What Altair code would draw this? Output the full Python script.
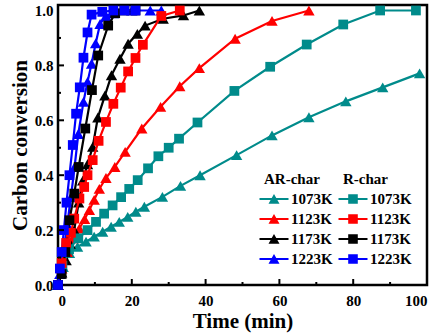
import altair as alt
import pandas as pd

temps = ["1073K", "1123K", "1173K", "1223K"]
colors = ["#008B8B", "#FF0000", "#000000", "#0000FF"]

# AR-char series (triangles)
ar_1073_t = [0, 1.4, 3.1, 5.3, 7.6, 9.8, 12.1, 14.4, 16.6, 18.9, 21.1, 23.4, 28.3, 33.2, 38.5, 48.4, 58, 68, 78, 88, 98]
ar_1073_c = [0, 0.065, 0.116, 0.139, 0.158, 0.176, 0.194, 0.212, 0.23, 0.248, 0.267, 0.285, 0.321, 0.361, 0.40, 0.473, 0.545, 0.611, 0.669, 0.72, 0.771]
ar_1123_t = [0, 1, 2.5, 4, 5.8, 7.2, 8.5, 9.8, 11.2, 13, 15.4, 18.2, 22.7, 27.8, 33, 38.3, 48, 58, 68]
ar_1123_c = [0, 0.06, 0.12, 0.17, 0.206, 0.24, 0.273, 0.31, 0.35, 0.39, 0.43, 0.485, 0.57, 0.649, 0.724, 0.79, 0.897, 0.962, 1.0]
ar_1173_t = [0, 1, 2.2, 3.3, 4.4, 5.6, 6.7, 8, 9.4, 10.8, 12.7, 14.5, 16.8, 19, 21.5, 23.6, 28.5, 34, 38.3]
ar_1173_c = [0, 0.045, 0.09, 0.15, 0.2, 0.3, 0.38, 0.44, 0.503, 0.61, 0.69, 0.764, 0.824, 0.879, 0.915, 0.945, 0.97, 0.982, 1.0]
ar_1223_t = [0, 0.5, 1.5, 2.5, 3.5, 4.5, 5.5, 6.9, 8, 9.1, 10.2, 11.4, 13, 15, 20, 25, 28]
ar_1223_c = [0, 0.04, 0.12, 0.22, 0.32, 0.43, 0.55, 0.667, 0.74, 0.806, 0.88, 0.951, 0.98, 0.99, 1.0, 1.0, 1.0]

# R-char series (squares)
r_1073_t = [0, 1.2, 3, 5.5, 8, 10.3, 12.5, 14.8, 17.1, 19.3, 21.6, 24.4, 27.2, 30, 32.8, 37.8, 47.8, 57.5, 67.4, 77.3, 87.3, 97]
r_1073_c = [0, 0.07, 0.13, 0.17, 0.2, 0.23, 0.26, 0.29, 0.32, 0.35, 0.382, 0.425, 0.469, 0.50, 0.533, 0.592, 0.707, 0.795, 0.876, 0.949, 1.0, 1.0]
r_1123_t = [0, 1, 2.2, 3.5, 4.4, 5.8, 7.1, 8, 9.4, 11, 13, 15, 17, 19, 21, 23, 28, 33]
r_1123_c = [0, 0.08, 0.153, 0.19, 0.242, 0.315, 0.357, 0.4, 0.455, 0.525, 0.594, 0.66, 0.719, 0.778, 0.827, 0.875, 0.98, 1.0]
r_1173_t = [0, 1, 2, 3.1, 4.4, 5.6, 7.4, 9.2, 10.9, 13.6, 15.5, 18, 21]
r_1173_c = [0, 0.04, 0.12, 0.236, 0.333, 0.43, 0.57, 0.71, 0.836, 0.945, 0.99, 1.0, 1.0]
r_1223_t = [0, 0.5, 1, 1.6, 2.3, 3.1, 4, 4.9, 5.9, 6.9, 8, 9.1, 12, 15, 18, 21]
r_1223_c = [0, 0.06, 0.12, 0.2, 0.3, 0.4, 0.51, 0.624, 0.72, 0.828, 0.92, 0.985, 0.995, 1.0, 1.0, 1.0]

x_major = [20, 40, 60, 80]
x_minor = [10, 30, 50, 70, 90]
y_major = [0.2, 0.4, 0.6, 0.8]
y_minor = [0.1, 0.3, 0.5, 0.7, 0.9]
x_labels = [0, 20, 40, 60, 80, 100]
y_labels = [0, 0.2, 0.4, 0.6, 0.8, 1.0]


def frame(pairs):
    rows = []
    for temp, (ts, cs) in zip(temps, pairs):
        for t, c in zip(ts, cs):
            rows.append({"t": t, "c": c, "temp": temp})
    return pd.DataFrame(rows)


ar_df = frame([(ar_1073_t, ar_1073_c), (ar_1123_t, ar_1123_c), (ar_1173_t, ar_1173_c), (ar_1223_t, ar_1223_c)])
r_df = frame([(r_1073_t, r_1073_c), (r_1123_t, r_1123_c), (r_1173_t, r_1173_c), (r_1223_t, r_1223_c)])

W, H = 369, 280
FONT = "Liberation Serif"
xs = alt.Scale(domain=[0, 100], nice=False)
ys = alt.Scale(domain=[0, 1.02], nice=False)

x_axis = alt.Axis(title="Time (min)", values=x_labels, ticks=False, domain=False, grid=False,
                  labelPadding=8, titlePadding=2)
y_axis = alt.Axis(title="Carbon conversion", values=y_labels, format=".1f", ticks=False, domain=False,
                  grid=False, labelPadding=5, titlePadding=4)

# symbol box is 20px (size 400); path extends beyond it so the line is ~29px long
tri_path = "M-1.45,-0.1H1.45V0.1H-1.45Z M-0.55,0.48L0,-0.5L0.55,0.48Z"
sq_path = "M-1.45,-0.1H1.45V0.1H-1.45Z M-0.48,-0.48H0.48V0.48H-0.48Z"


def series(df, shape, size, title, path, lx, ly):
    base = alt.Chart(df)
    cscale = alt.Scale(domain=temps, range=colors)
    leg = alt.Legend(
        title=title, orient="none", legendX=lx, legendY=ly,
        symbolType=path, symbolSize=400, symbolStrokeWidth=0, symbolOpacity=1,
        labelFont=FONT, labelFontSize=15, labelFontWeight="bold", labelColor="black",
        titleFont=FONT, titleFontSize=15, titleFontWeight="bold", titleColor="black",
        labelOffset=7, rowPadding=2, titlePadding=2)
    line = base.mark_line(strokeWidth=2.2).encode(
        x=alt.X("t:Q", scale=xs, axis=x_axis),
        y=alt.Y("c:Q", scale=ys, axis=y_axis),
        color=alt.Color("temp:N", scale=cscale, legend=leg),
    )
    pts = base.mark_point(shape=shape, filled=True, size=size, opacity=1).encode(
        x=alt.X("t:Q", scale=xs, axis=x_axis),
        y=alt.Y("c:Q", scale=ys, axis=y_axis),
        color=alt.Color("temp:N", scale=cscale, legend=leg),
    )
    return alt.layer(line, pts)


ar_layer = series(ar_df, "triangle-up", 130, "AR-char", tri_path, 206, 167)
r_layer = series(r_df, "square", 95, "R-char", sq_path, 285, 167)

xt_major = alt.Chart(pd.DataFrame({"t": x_major})).mark_rule(color="black", strokeWidth=2).encode(
    x=alt.X("t:Q", scale=xs, axis=x_axis), y=alt.value(H), y2=alt.value(H - 6))
xt_minor = alt.Chart(pd.DataFrame({"t": x_minor})).mark_rule(color="black", strokeWidth=2).encode(
    x=alt.X("t:Q", scale=xs, axis=x_axis), y=alt.value(H), y2=alt.value(H - 3))
yt_major = alt.Chart(pd.DataFrame({"c": y_major})).mark_rule(color="black", strokeWidth=2).encode(
    y=alt.Y("c:Q", scale=ys, axis=y_axis), x=alt.value(0), x2=alt.value(6))
yt_minor = alt.Chart(pd.DataFrame({"c": y_minor})).mark_rule(color="black", strokeWidth=2).encode(
    y=alt.Y("c:Q", scale=ys, axis=y_axis), x=alt.value(0), x2=alt.value(3))

chart = alt.layer(ar_layer, r_layer, xt_major, xt_minor, yt_major, yt_minor).resolve_scale(
    color="independent"
).properties(
    width=W, height=H,
    padding={"left": 58, "top": 5, "right": 16, "bottom": 49},
    autosize=alt.AutoSizeParams(type="none"),
    background="white",
).configure_view(
    stroke="black", strokeWidth=2.5
).configure_axis(
    labelFont=FONT, labelFontSize=15, labelFontWeight="bold", labelColor="black",
    titleFont=FONT, titleFontSize=21, titleFontWeight="bold", titleColor="black",
).configure_legend(
    labelFont=FONT, labelFontSize=15, labelFontWeight="bold", labelColor="black",
    titleFont=FONT, titleFontSize=15, titleFontWeight="bold", titleColor="black",
)

chart.save("out.html", embed_options={"renderer": "svg", "actions": False})
